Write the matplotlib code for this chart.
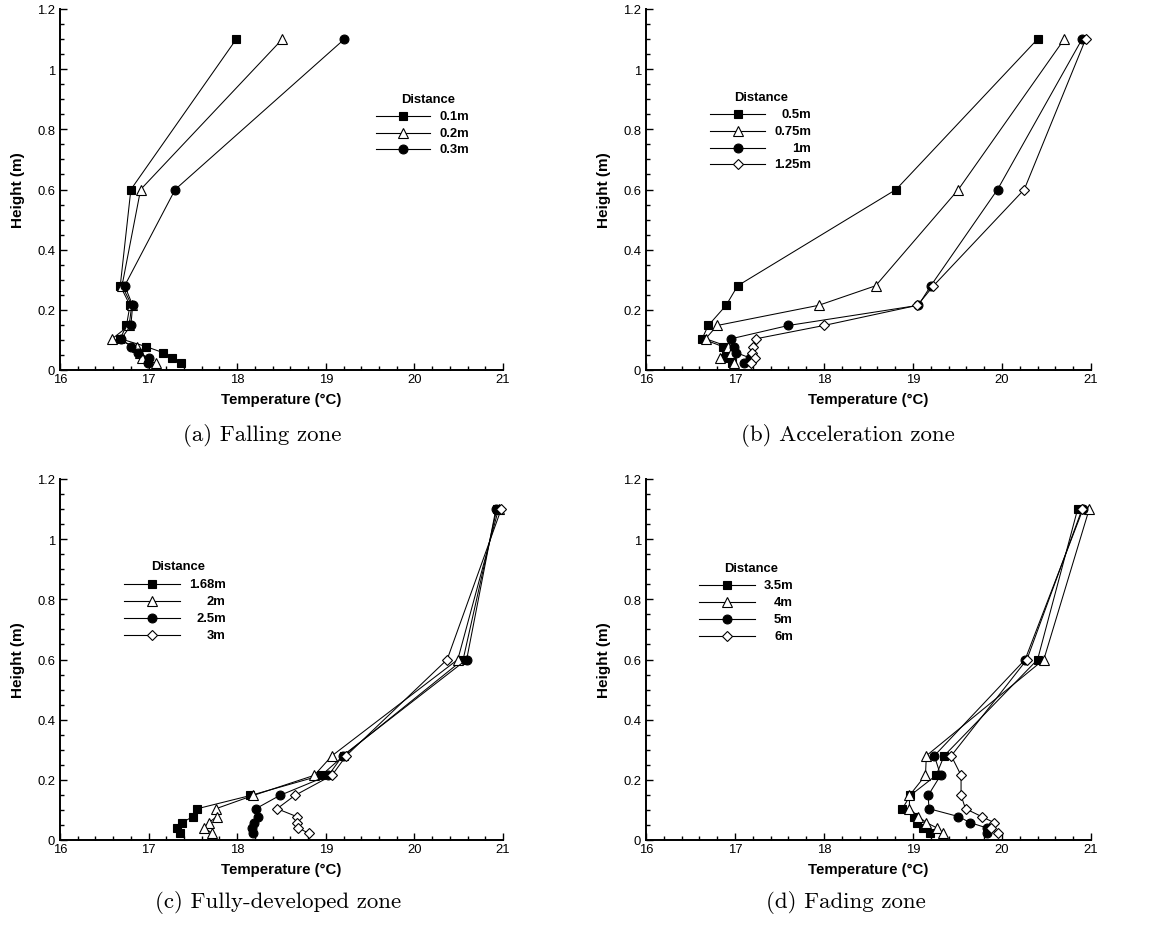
import numpy as np
import matplotlib
matplotlib.use('Agg')
import matplotlib.pyplot as plt
from matplotlib.ticker import MultipleLocator, FuncFormatter

plt.rcParams['font.family'] = ['Liberation Sans', 'DejaVu Sans']

# measurement heights (m), same for every profile
heights = [1.1, 0.6, 0.28, 0.215, 0.148, 0.104, 0.078, 0.058, 0.04, 0.022]

# (a) falling zone
labels_a = ['0.1m', '0.2m', '0.3m']
temp_a = [
    [17.99, 16.80, 16.68, 16.79, 16.75, 16.68, 16.97, 17.16, 17.26, 17.37],
    [18.51, 16.91, 16.70, 16.81, 16.78, 16.59, 16.87, 16.90, 16.92, 17.08],
    [19.21, 17.30, 16.73, 16.82, 16.80, 16.69, 16.80, 16.88, 17.00, 16.99],
]

# (b) acceleration zone
labels_b = ['0.5m', '0.75m', '1m', '1.25m']
temp_b = [
    [20.40, 18.81, 17.03, 16.90, 16.70, 16.63, 16.86, 16.90, 16.89, 16.97],
    [20.70, 19.51, 18.58, 17.94, 16.80, 16.67, 16.92, 16.96, 16.83, 16.99],
    [20.90, 19.95, 19.20, 19.06, 17.60, 16.96, 16.99, 17.01, 17.17, 17.10],
    [20.94, 20.25, 19.23, 19.05, 18.00, 17.24, 17.20, 17.19, 17.22, 17.18],
]

# (c) fully-developed zone
labels_c = ['1.68m', '2m', '2.5m', '3m']
temp_c = [
    [20.93, 20.55, 19.20, 18.95, 18.15, 17.55, 17.50, 17.38, 17.32, 17.35],
    [20.95, 20.49, 19.07, 18.87, 18.18, 17.76, 17.77, 17.68, 17.63, 17.72],
    [20.92, 20.59, 19.19, 19.03, 18.48, 18.21, 18.24, 18.19, 18.17, 18.18],
    [20.98, 20.37, 19.23, 19.07, 18.65, 18.45, 18.67, 18.67, 18.69, 18.81],
]

# (d) fading zone
labels_d = ['3.5m', '4m', '5m', '6m']
temp_d = [
    [20.85, 20.40, 19.35, 19.26, 18.97, 18.88, 19.01, 19.05, 19.11, 19.19],
    [20.98, 20.47, 19.15, 19.14, 18.96, 18.96, 19.06, 19.15, 19.27, 19.34],
    [20.91, 20.26, 19.24, 19.31, 19.17, 19.18, 19.51, 19.64, 19.83, 19.83],
    [20.90, 20.28, 19.43, 19.54, 19.54, 19.59, 19.77, 19.91, 19.88, 19.95],
]

captions = ['(a) Falling zone', '(b) Acceleration zone',
            '(c) Fully-developed zone', '(d) Fading zone']

# marker styles: filled square, open triangle, filled circle, open diamond
styles = [dict(marker='s', ms=5.3, mfc='black'),
          dict(marker='^', ms=7.0, mfc='white'),
          dict(marker='o', ms=6.4, mfc='black'),
          dict(marker='D', ms=5.5, mfc='white')]


def legend(ax, labels, x0, x1, xtxt, xtitle, ytitle, y0, dy=0.0465):
    xm = 0.5 * (x0 + x1)
    ax.text(xtitle, ytitle, 'Distance', transform=ax.transAxes, ha='center',
            va='center', fontsize=9.4, fontweight='bold')
    for i, lab in enumerate(labels):
        y = y0 - i * dy
        ax.plot([x0, x1], [y, y], color='black', lw=0.8, transform=ax.transAxes,
                clip_on=False)
        ax.plot([xm], [y], color='black', mec='black', mew=0.8, ls='none',
                transform=ax.transAxes, clip_on=False, **styles[i])
        ax.text(xtxt, y, lab, transform=ax.transAxes, ha='right', va='center',
                fontsize=9.4, fontweight='bold')


def panel(ax, temps):
    for i, t in enumerate(temps):
        ax.plot(t, heights, color='black', lw=0.75, mec='black', mew=0.8,
                clip_on=False, **styles[i])
    ax.set_xlim(16, 21)
    ax.set_ylim(0, 1.2)
    ax.xaxis.set_major_locator(MultipleLocator(1))
    ax.xaxis.set_minor_locator(MultipleLocator(0.2))
    ax.yaxis.set_major_locator(MultipleLocator(0.2))
    ax.yaxis.set_minor_locator(MultipleLocator(0.05))
    ax.yaxis.set_major_formatter(FuncFormatter(lambda v, p: '%g' % round(v, 2)))
    for s in ['top', 'right']:
        ax.spines[s].set_visible(False)
    for s in ['left', 'bottom']:
        ax.spines[s].set_linewidth(1.4)
    ax.tick_params(which='both', direction='in', labelsize=9.4, width=1.0)
    ax.tick_params(which='major', length=5)
    ax.tick_params(which='minor', length=2.8)
    ax.tick_params(axis='y', pad=3.5)
    ax.tick_params(axis='x', pad=2.5)
    ax.set_xlabel('Temperature (°C)', fontsize=10.8, fontweight='bold', labelpad=5)
    ax.set_ylabel('Height (m)', fontsize=11, fontweight='bold', labelpad=9)


fig = plt.figure(figsize=(11.66, 9.28), dpi=100)
W, H = 1166, 928
boxes = [(60, 10), (646, 10), (60, 480), (646, 480)]
axes = []
for (l, t) in boxes:
    wpx = 443 if l == 60 else 445
    axes.append(fig.add_axes([l / W, (H - t - 361) / H, wpx / W, 361 / H]))

panel(axes[0], temp_a)
panel(axes[1], temp_b)
panel(axes[2], temp_c)
panel(axes[3], temp_d)

legend(axes[0], labels_a, 0.713, 0.835, 0.923, 0.831, 0.751, 0.704)
legend(axes[1], labels_b, 0.144, 0.268, 0.371, 0.258, 0.755, 0.709)
legend(axes[2], labels_c, 0.145, 0.271, 0.374, 0.267, 0.758, 0.708)
legend(axes[3], labels_d, 0.120, 0.244, 0.330, 0.236, 0.754, 0.705)

cap_pos = [(262, 436), (848, 436), (278, 903), (846, 903)]
for (cx, cy), txt in zip(cap_pos, captions):
    fig.text(cx / W, (H - cy) / H, txt, ha='center', va='center',
             fontsize=16.5, family='cmr10')

plt.savefig('out.png', dpi=100)
